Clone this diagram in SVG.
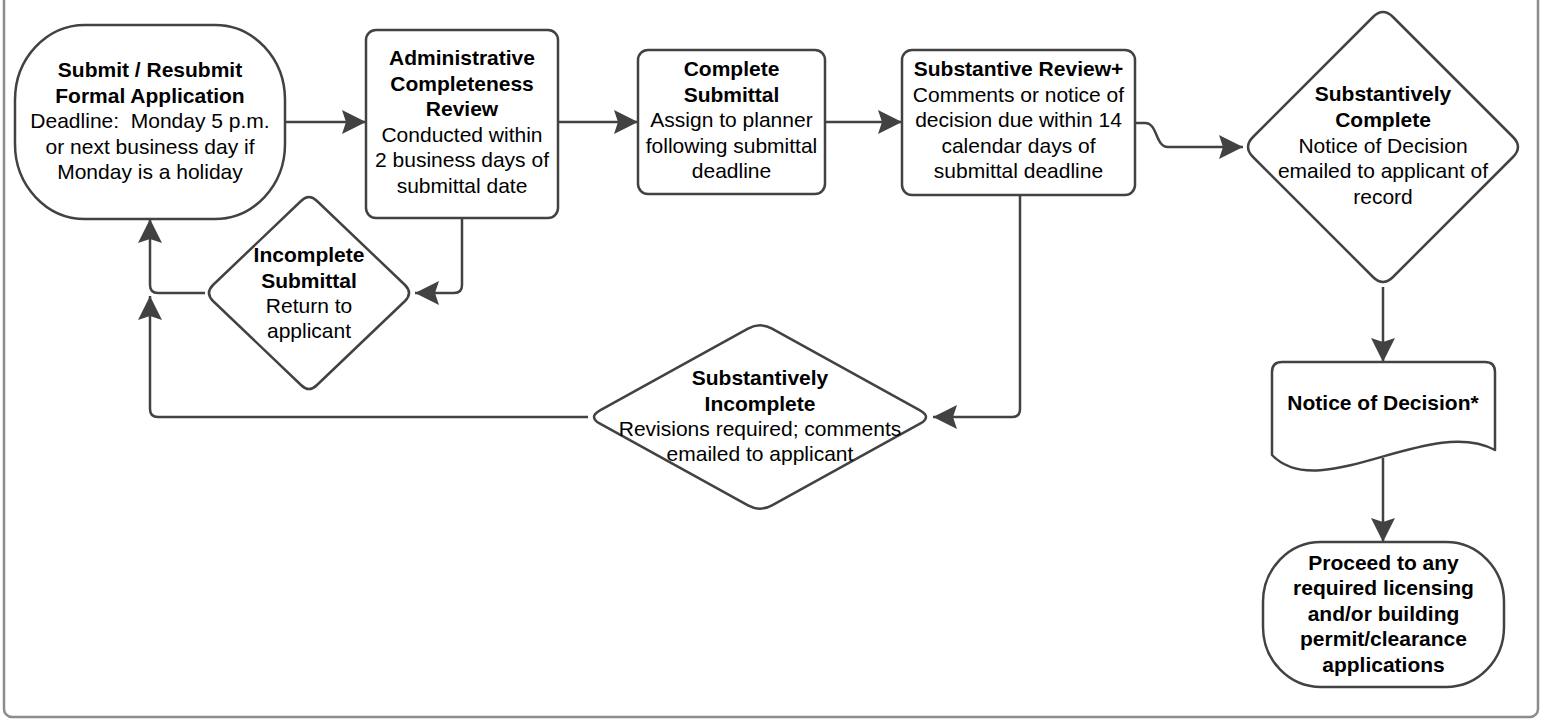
<svg xmlns="http://www.w3.org/2000/svg" width="1541" height="721" viewBox="0 0 1541 721">
<style>
.shape{fill:#ffffff;stroke:#424242;stroke-width:2.5;stroke-linejoin:round}
.conn{fill:none;stroke:#424242;stroke-width:2.5;stroke-linejoin:round}
.t{font-size:21px;fill:#000;text-anchor:middle;white-space:pre}
.b{font-weight:bold}
</style>
<defs>
<marker id="arr" markerUnits="userSpaceOnUse" viewBox="0 0 24 24" markerWidth="24" markerHeight="24" refX="24" refY="12" orient="auto">
<path d="M0,0 L24,12 L0,24 L4,12 Z" fill="#424242"/>
</marker>
</defs>
<rect x="4" y="-20" width="1534" height="737" rx="8" fill="#ffffff" stroke="#8c8c8c" stroke-width="2.5"/>
<g id="connectors">
<path class="conn" d="M285,122 L366,122" marker-end="url(#arr)"/>
<path class="conn" d="M558,122 L638,122" marker-end="url(#arr)"/>
<path class="conn" d="M825,122 L902,122" marker-end="url(#arr)"/>
<path class="conn" d="M1135,123 L1145,123 C1158,123 1155,147 1168,147 L1243,147" marker-end="url(#arr)"/>
<path class="conn" d="M1020,195 L1020,409 Q1020,417 1012,417 L933,417" marker-end="url(#arr)"/>
<path class="conn" d="M462,218 L462,285 Q462,293 454,293 L415,293" marker-end="url(#arr)"/>
<path class="conn" d="M205,293 L158,293 Q150,293 150,285 L150,219" marker-end="url(#arr)"/>
<path class="conn" d="M588,417 L158,417 Q150,417 150,409 L150,296" marker-end="url(#arr)"/>
<path class="conn" d="M1383,287 L1383,362" marker-end="url(#arr)"/>
<path class="conn" d="M1383,458 L1383,542" marker-end="url(#arr)"/>
</g>
<g font-family="Liberation Sans, Arial, Helvetica, sans-serif">
<g id="submit">
<rect class="shape" x="15" y="25" width="270" height="194" rx="70" ry="75"/>
<text class="t b" x="150" y="77">Submit / Resubmit</text>
<text class="t b" x="150" y="102.5">Formal Application</text>
<text class="t" x="150" y="128">Deadline:  Monday 5 p.m.</text>
<text class="t" x="150" y="153.5">or next business day if</text>
<text class="t" x="150" y="179">Monday is a holiday</text>
</g>
<g id="admin-review">
<rect class="shape" x="366" y="30" width="192" height="188" rx="10"/>
<text class="t b" x="462" y="65">Administrative</text>
<text class="t b" x="462" y="90.5">Completeness</text>
<text class="t b" x="462" y="116">Review</text>
<text class="t" x="462" y="141.5">Conducted within</text>
<text class="t" x="462" y="167">2 business days of</text>
<text class="t" x="462" y="192.5">submittal date</text>
</g>
<g id="complete-submittal">
<rect class="shape" x="638" y="50" width="187" height="144" rx="10"/>
<text class="t b" x="731.5" y="76">Complete</text>
<text class="t b" x="731.5" y="101.5">Submittal</text>
<text class="t" x="731.5" y="127">Assign to planner</text>
<text class="t" x="731.5" y="152.5">following submittal</text>
<text class="t" x="731.5" y="178">deadline</text>
</g>
<g id="substantive-review">
<rect class="shape" x="902" y="50" width="233" height="145" rx="10"/>
<text class="t b" x="1018.5" y="76">Substantive Review+</text>
<text class="t" x="1018.5" y="101.5">Comments or notice of</text>
<text class="t" x="1018.5" y="127">decision due within 14</text>
<text class="t" x="1018.5" y="152.5">calendar days of</text>
<text class="t" x="1018.5" y="178">submittal deadline</text>
</g>
<g id="substantively-complete">
<path class="shape" d="M1373,17 Q1383,7 1393,17 L1513,137 Q1523,147 1513,157 L1393,277 Q1383,287 1373,277 L1253,157 Q1243,147 1253,137 Z"/>
<text class="t b" x="1383" y="101">Substantively</text>
<text class="t b" x="1383" y="127">Complete</text>
<text class="t" x="1383" y="152.5">Notice of Decision</text>
<text class="t" x="1383" y="178">emailed to applicant of</text>
<text class="t" x="1383" y="203.5">record</text>
</g>
<g id="incomplete-submittal">
<path class="shape" d="M301,201 Q309,193 317,201 L405,285 Q413,293 405,301 L317,385 Q309,393 301,385 L213,301 Q205,293 213,285 Z"/>
<text class="t b" x="309" y="262">Incomplete</text>
<text class="t b" x="309" y="287.5">Submittal</text>
<text class="t" x="309" y="313">Return to</text>
<text class="t" x="309" y="338">applicant</text>
</g>
<g id="substantively-incomplete">
<path class="shape" d="M748,328.7 Q760,322 772,328.7 L920,410.3 Q932,417 920,423.7 L772,505.3 Q760,512 748,505.3 L600,423.7 Q588,417 600,410.3 Z"/>
<text class="t b" x="760" y="385">Substantively</text>
<text class="t b" x="760" y="410.5">Incomplete</text>
<text class="t" x="760" y="436">Revisions required; comments</text>
<text class="t" x="760" y="461">emailed to applicant</text>
</g>
<g id="notice-of-decision">
<path class="shape" d="M1282,362 L1485,362 Q1495,362 1495,372 L1495,450 C1430,415 1320,505 1272,455 L1272,372 Q1272,362 1282,362 Z"/>
<text class="t b" x="1383" y="410">Notice of Decision*</text>
</g>
<g id="proceed">
<rect class="shape" x="1263" y="542" width="241" height="145" rx="58" ry="60"/>
<text class="t b" x="1383.5" y="569.5">Proceed to any</text>
<text class="t b" x="1383.5" y="595">required licensing</text>
<text class="t b" x="1383.5" y="620.5">and/or building</text>
<text class="t b" x="1383.5" y="646">permit/clearance</text>
<text class="t b" x="1383.5" y="671.5">applications</text>
</g>
</g>
</svg>
